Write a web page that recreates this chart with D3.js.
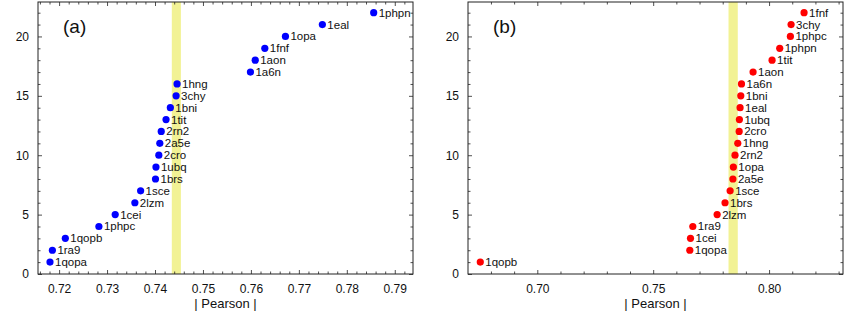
<!DOCTYPE html>
<html>
<head>
<meta charset="utf-8">
<script src="https://cdn.jsdelivr.net/npm/d3@7"></script>
<style>
  html, body { margin: 0; padding: 0; background: #fff; }
  svg { display: block; }
  text { font-family: "Liberation Sans", Arial, Helvetica, sans-serif; }
</style>
</head>
<body>
<script>
// ---------- data ----------
const namesA = ["1qopa","1ra9","1qopb","1phpc","1cei","2lzm","1sce","1brs","1ubq","2cro","2a5e",
                "2rn2","1tit","1bni","3chy","1hng","1a6n","1aon","1fnf","1opa","1eal","1phpn"];
const valuesA = [0.7181,0.7186,0.7213,0.7283,0.7317,0.7358,0.7370,0.7401,0.7402,0.7408,0.7410,
                 0.7413,0.7423,0.7432,0.7444,0.7446,0.7599,0.7609,0.7629,0.7672,0.7749,0.7856];
const bandA = [0.7435, 0.7454];

const namesB = ["1qopb","1qopa","1cei","1ra9","2lzm","1brs","1sce","2a5e","1opa","2rn2","1hng",
                "2cro","1ubq","1eal","1bni","1a6n","1aon","1tit","1phpn","1phpc","3chy","1fnf"];
const valuesB = [0.6754,0.7658,0.7661,0.7671,0.7776,0.7810,0.7832,0.7844,0.7846,0.7853,0.7865,
                 0.7871,0.7872,0.7875,0.7878,0.7881,0.7931,0.8013,0.8046,0.8092,0.8095,0.8151];
const bandB = [0.7825, 0.7865];

const xTicksA = [0.72,0.73,0.74,0.75,0.76,0.77,0.78,0.79];
const xTickLabelsA = ["0.72","0.73","0.74","0.75","0.76","0.77","0.78","0.79"];
const xTicksB = [0.70,0.75,0.80];
const xTickLabelsB = ["0.70","0.75","0.80"];
const yTicks = [0,5,10,15,20];
const yTickLabels = ["0","5","10","15","20"];
const panelLabels = ["(a)","(b)"];
const xTitle = "| Pearson |";

// ---------- layout ----------
const W = 845, H = 314;
const svg = d3.select("body").append("svg").attr("width", W).attr("height", H);

function drawPanel(cfg) {
  const x = d3.scaleLinear().domain(cfg.xDomain).range([cfg.left, cfg.right]);
  const y = d3.scaleLinear().domain([0, 22.9]).range([cfg.bottom, cfg.top]);
  const g = svg.append("g");

  // band
  g.append("rect")
    .attr("x", x(cfg.band[0])).attr("y", cfg.top)
    .attr("width", x(cfg.band[1]) - x(cfg.band[0]))
    .attr("height", cfg.bottom - cfg.top)
    .attr("fill", "#f2f294");

  // minor tick values
  const [x0, x1] = cfg.xDomain;
  const xMinor = d3.range(Math.ceil(x0 / cfg.minorStep - 1e-9), Math.floor(x1 / cfg.minorStep + 1e-9) + 1)
                   .map(k => +(k * cfg.minorStep).toFixed(5))
                   .filter(v => !cfg.xTicks.some(t => Math.abs(t - v) < 1e-7));
  const yMinor = d3.range(0, 23).filter(v => !yTicks.includes(v));

  const styleAxis = sel => {
    sel.select(".domain").remove();
    sel.selectAll("line").attr("stroke", "#222").attr("stroke-width", 0.8);
    sel.selectAll("text").attr("fill", "#111").style("font-size", "12px");
  };

  // bottom
  g.append("g").attr("transform", `translate(0,${cfg.bottom})`)
    .call(d3.axisBottom(x).tickValues(cfg.xTicks).tickSize(-4).tickPadding(10)
          .tickFormat((d, i) => cfg.xLabels[i]))
    .call(styleAxis);
  g.append("g").attr("transform", `translate(0,${cfg.bottom})`)
    .call(d3.axisBottom(x).tickValues(xMinor).tickSize(-2.5).tickFormat(""))
    .call(styleAxis);
  // top
  g.append("g").attr("transform", `translate(0,${cfg.top})`)
    .call(d3.axisTop(x).tickValues(cfg.xTicks).tickSize(-4).tickFormat(""))
    .call(styleAxis);
  g.append("g").attr("transform", `translate(0,${cfg.top})`)
    .call(d3.axisTop(x).tickValues(xMinor).tickSize(-2.5).tickFormat(""))
    .call(styleAxis);
  // left
  g.append("g").attr("transform", `translate(${cfg.left},0)`)
    .call(d3.axisLeft(y).tickValues(yTicks).tickSize(-4).tickPadding(9)
          .tickFormat((d, i) => yTickLabels[i]))
    .call(styleAxis);
  g.append("g").attr("transform", `translate(${cfg.left},0)`)
    .call(d3.axisLeft(y).tickValues(yMinor).tickSize(-2.5).tickFormat(""))
    .call(styleAxis);
  // right
  g.append("g").attr("transform", `translate(${cfg.right},0)`)
    .call(d3.axisRight(y).tickValues(yTicks).tickSize(-4).tickFormat(""))
    .call(styleAxis);
  g.append("g").attr("transform", `translate(${cfg.right},0)`)
    .call(d3.axisRight(y).tickValues(yMinor).tickSize(-2.5).tickFormat(""))
    .call(styleAxis);

  // frame
  g.append("rect")
    .attr("x", cfg.left).attr("y", cfg.top)
    .attr("width", cfg.right - cfg.left).attr("height", cfg.bottom - cfg.top)
    .attr("fill", "none").attr("stroke", "#222").attr("stroke-width", 1);

  // points
  const pts = cfg.values.map((v, i) => ({ v, r: i + 1, name: cfg.names[i] }));
  g.selectAll("circle.pt").data(pts).join("circle")
    .attr("class", "pt")
    .attr("cx", d => x(d.v)).attr("cy", d => y(d.r))
    .attr("r", 3.6).attr("fill", cfg.color);
  g.selectAll("text.lbl").data(pts).join("text")
    .attr("class", "lbl")
    .attr("x", d => x(d.v) + 5).attr("y", d => y(d.r) + 4)
    .attr("fill", "#111").style("font-size", "11.5px")
    .text(d => d.name);

  // panel label
  g.append("text").attr("x", cfg.left + 25).attr("y", 33)
    .style("font-size", "19px").attr("fill", "#111").text(cfg.panel);

  // x title
  g.append("text").attr("x", (cfg.left + cfg.right) / 2).attr("y", 308)
    .attr("text-anchor", "middle").style("font-size", "13px").attr("fill", "#111")
    .text(xTitle);
}

drawPanel({ left: 38, right: 413, top: 2, bottom: 274,
  xDomain: [0.7156, 0.7938], xTicks: xTicksA, xLabels: xTickLabelsA, minorStep: 0.002,
  names: namesA, values: valuesA, band: bandA, color: "#0000ff", panel: panelLabels[0] });

drawPanel({ left: 468, right: 843, top: 2, bottom: 274,
  xDomain: [0.6701, 0.8319], xTicks: xTicksB, xLabels: xTickLabelsB, minorStep: 0.01,
  names: namesB, values: valuesB, band: bandB, color: "#ff0000", panel: panelLabels[1] });
</script>
</body>
</html>
